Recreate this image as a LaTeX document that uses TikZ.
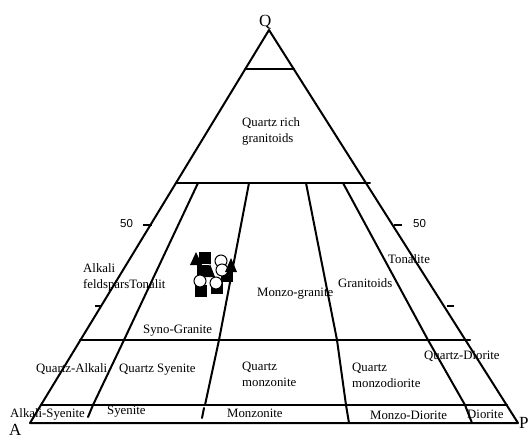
\documentclass[tikz,border=0pt]{standalone}
\usepackage{fontspec}
\setmainfont{Liberation Serif}
\newfontfamily\labsans{Liberation Sans}
\begin{document}
\begin{tikzpicture}[x=1pt,y=-1pt,
  edge/.style={line width=2pt,line cap=round,line join=round},
  tickline/.style={line width=1.3pt},
  lab/.style={inner sep=0pt,anchor=base west,font=\fontsize{12.8}{16}\selectfont},
  mlab/.style={lab,align=left},
  corner/.style={inner sep=0pt,anchor=base west,font=\fontsize{17}{17}\selectfont},
  num/.style={inner sep=0pt,anchor=base west,font=\labsans\fontsize{11.5}{12}\selectfont},
  sqm/.style={fill=black,minimum size=12pt,inner sep=0pt,rectangle},
  cim/.style={draw=black,fill=white,line width=1pt,circle,inner sep=0pt,minimum size=12pt},
  trm/.style={fill=black}]
\useasboundingbox (0,0) rectangle (529,439);
% corners
\coordinate (Qc) at (269,30);
\coordinate (Ac) at (30,423);
\coordinate (Pc) at (518,423);
% outer triangle
\draw[edge] (Ac) -- (Qc) -- (Pc) -- cycle;
% horizontal lines
\draw[edge] (245,69) -- (294,69);
\draw[edge] (176,183) -- (370,183);
\draw[edge] (80,340) -- (470,340);
\draw[edge] (41,405) -- (507,405);
% internal lines
\draw[edge] (198,183) -- (124,340) -- (93,405) -- (88,417);
\draw[edge] (249,183) -- (219,340) -- (205,405);
\draw[edge] (204,408) -- (202,418);
\draw[edge] (306,183) -- (337,340) -- (346,405) -- (349,423);
\draw[edge] (343,183) -- (428,340) -- (465,405) -- (472,423);
% ticks
\draw[tickline] (143,225) -- (152,225);
\draw[tickline] (95,306) -- (102,306);
\draw[tickline] (394,225) -- (402,225);
\draw[tickline] (447,306) -- (454,306);
% corner labels
\node[corner] (Q) at (259,26) {Q};
\node[corner] (A) at (9,435) {A};
\node[corner] (P) at (519,428) {P};
% numbers
\node[num] (n50l) at (120,227) {50};
\node[num] (n50r) at (413,227) {50};
% field labels
\node[mlab,anchor=north west] (qrg) at (242,117) {Quartz rich\\granitoids};
\node[mlab,anchor=north west] (afg) at (83,263) {Alkali\\feldsparsTonalit};
\node[lab] (syno) at (143,333) {Syno-Granite};
\node[lab] (mgr) at (257,296) {Monzo-granite};
\node[lab] (grd) at (338,287) {Granitoids};
\node[lab] (ton) at (388,263) {Tonalite};
\node[lab] (qal) at (36,372) {Quartz-Alkali};
\node[lab] (qsy) at (119,372) {Quartz Syenite};
\node[mlab,anchor=north west] (qmz) at (242,362) {Quartz\\monzonite};
\node[mlab,anchor=north west] (qmd) at (352,363) {Quartz\\monzodiorite};
\node[lab] (qdi) at (424,359) {Quartz-Diorite};
\node[lab] (asy) at (10,417) {Alkali-Syenite};
\node[lab] (sye) at (107,414) {Syenite};
\node[lab] (mzn) at (227,417) {Monzonite};
\node[lab] (mzd) at (370,419) {Monzo-Diorite};
\node[lab] (dio) at (467,418) {Diorite};
% data markers
\node[sqm] (s1) at (205,258) {};
\node[sqm] (s2) at (203,271) {};
\node[sqm] (s3) at (227,276) {};
\node[sqm] (s4) at (201,291) {};
\node[sqm] (s5) at (217,288) {};
\node[cim] (c1) at (221,261) {};
\node[cim] (c2) at (222,270) {};
\node[cim] (c3) at (200,281) {};
\node[cim] (c4) at (216,283) {};
\fill[trm] (190,265) -- (196,252) -- (202,265) -- cycle;
\fill[trm] (205,277) -- (210,264) -- (215,277) -- cycle;
\fill[trm] (225,272) -- (231,258) -- (237,272) -- cycle;
\end{tikzpicture}
\end{document}
